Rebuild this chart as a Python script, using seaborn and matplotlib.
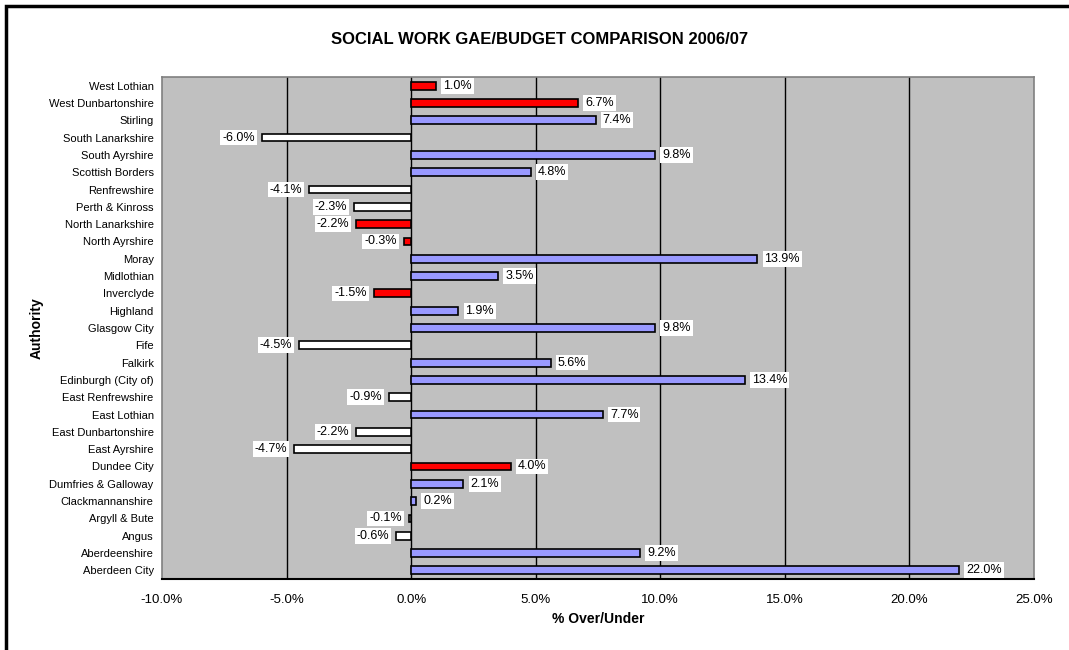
import matplotlib
matplotlib.use("Agg")
import matplotlib.pyplot as plt
import seaborn as sns
import pandas as pd
from matplotlib.patches import Rectangle

authorities = [
    "West Lothian", "West Dunbartonshire", "Stirling", "South Lanarkshire",
    "South Ayrshire", "Scottish Borders", "Renfrewshire", "Perth & Kinross",
    "North Lanarkshire", "North Ayrshire", "Moray", "Midlothian", "Inverclyde",
    "Highland", "Glasgow City", "Fife", "Falkirk", "Edinburgh (City of)",
    "East Renfrewshire", "East Lothian", "East Dunbartonshire", "East Ayrshire",
    "Dundee City", "Dumfries & Galloway", "Clackmannanshire", "Argyll & Bute",
    "Angus", "Aberdeenshire", "Aberdeen City",
]
pct_over_under = [
    1.0, 6.7, 7.4, -6.0, 9.8, 4.8, -4.1, -2.3, -2.2, -0.3, 13.9, 3.5, -1.5,
    1.9, 9.8, -4.5, 5.6, 13.4, -0.9, 7.7, -2.2, -4.7, 4.0, 2.1, 0.2, -0.1,
    -0.6, 9.2, 22.0,
]
group = [
    "red", "red", "blue", "white", "blue", "blue", "white", "white", "red",
    "red", "blue", "blue", "red", "blue", "blue", "white", "blue", "blue",
    "white", "blue", "white", "white", "red", "blue", "blue", "white",
    "white", "blue", "blue",
]
group_colors = {"red": "#FF0000", "blue": "#9999FF", "white": "#FFFFFF"}
x_ticks = [-10, -5, 0, 5, 10, 15, 20, 25]

df = pd.DataFrame({"Authority": authorities, "Value": pct_over_under, "Group": group})

sns.set_theme(style="white")
plt.rcParams["font.family"] = ["Liberation Sans", "DejaVu Sans"]
plt.rcParams["text.color"] = "black"
plt.rcParams["axes.labelcolor"] = "black"
plt.rcParams["xtick.color"] = "black"
plt.rcParams["ytick.color"] = "black"

fig = plt.figure(figsize=(10.69, 6.5), dpi=100)
fig.patch.set_facecolor("white")
ax = fig.add_axes([162 / 1069, 1 - 579 / 650, (1034 - 162) / 1069, (579 - 77) / 650])
ax.set_facecolor("#C0C0C0")

sns.barplot(data=df, x="Value", y="Authority", hue="Group", palette=group_colors,
            order=authorities, orient="h", dodge=False, legend=False,
            saturation=1, width=0.45, edgecolor="black", linewidth=1.2,
            ax=ax, zorder=3)

for xv in x_ticks[1:-1]:
    ax.axvline(xv, color="black", linewidth=1.0, zorder=1)

ax.set_xlim(-10, 25)
ax.set_ylim(len(authorities) - 0.5, -0.5)
ax.set_xticks(x_ticks)
ax.set_xticklabels([f"{t:.1f}%" for t in x_ticks], fontsize=9.5, color="black")
ax.tick_params(axis="x", direction="out", length=5, width=1, color="black", pad=6)
ax.tick_params(axis="y", length=0, pad=6, labelsize=8, labelcolor="black")

for name, sp in ax.spines.items():
    sp.set_visible(True)
    sp.set_color("#808080")
    sp.set_linewidth(1.2)
ax.spines["bottom"].set_color("black")
ax.spines["bottom"].set_linewidth(1.5)

for i, v in enumerate(pct_over_under):
    ax.annotate(f"{v:.1f}%", xy=(v, i), xytext=(5 if v >= 0 else -5, 0),
                textcoords="offset points", ha="left" if v >= 0 else "right",
                va="center", fontsize=9, color="black",
                bbox=dict(boxstyle="square,pad=0.15", facecolor="white", edgecolor="none"),
                zorder=5)

ax.set_xlabel("% Over/Under", fontsize=10, fontweight="bold", labelpad=4, color="black")
ax.set_ylabel("Authority", fontsize=10, fontweight="bold", color="black")
ax.yaxis.set_label_coords((44 - 162) / (1034 - 162), 0.5)

fig.text(540 / 1069, 1 - 40 / 650, "SOCIAL WORK GAE/BUDGET COMPARISON 2006/07",
         ha="center", va="center", fontsize=12, fontweight="bold", color="black")

fig.patches.append(Rectangle((6 / 1069, -0.1), 1.2, 1 - 6 / 650 + 0.1,
                             transform=fig.transFigure, fill=False,
                             edgecolor="black", linewidth=2.5))

fig.savefig("out.png", dpi=100, facecolor="white")
